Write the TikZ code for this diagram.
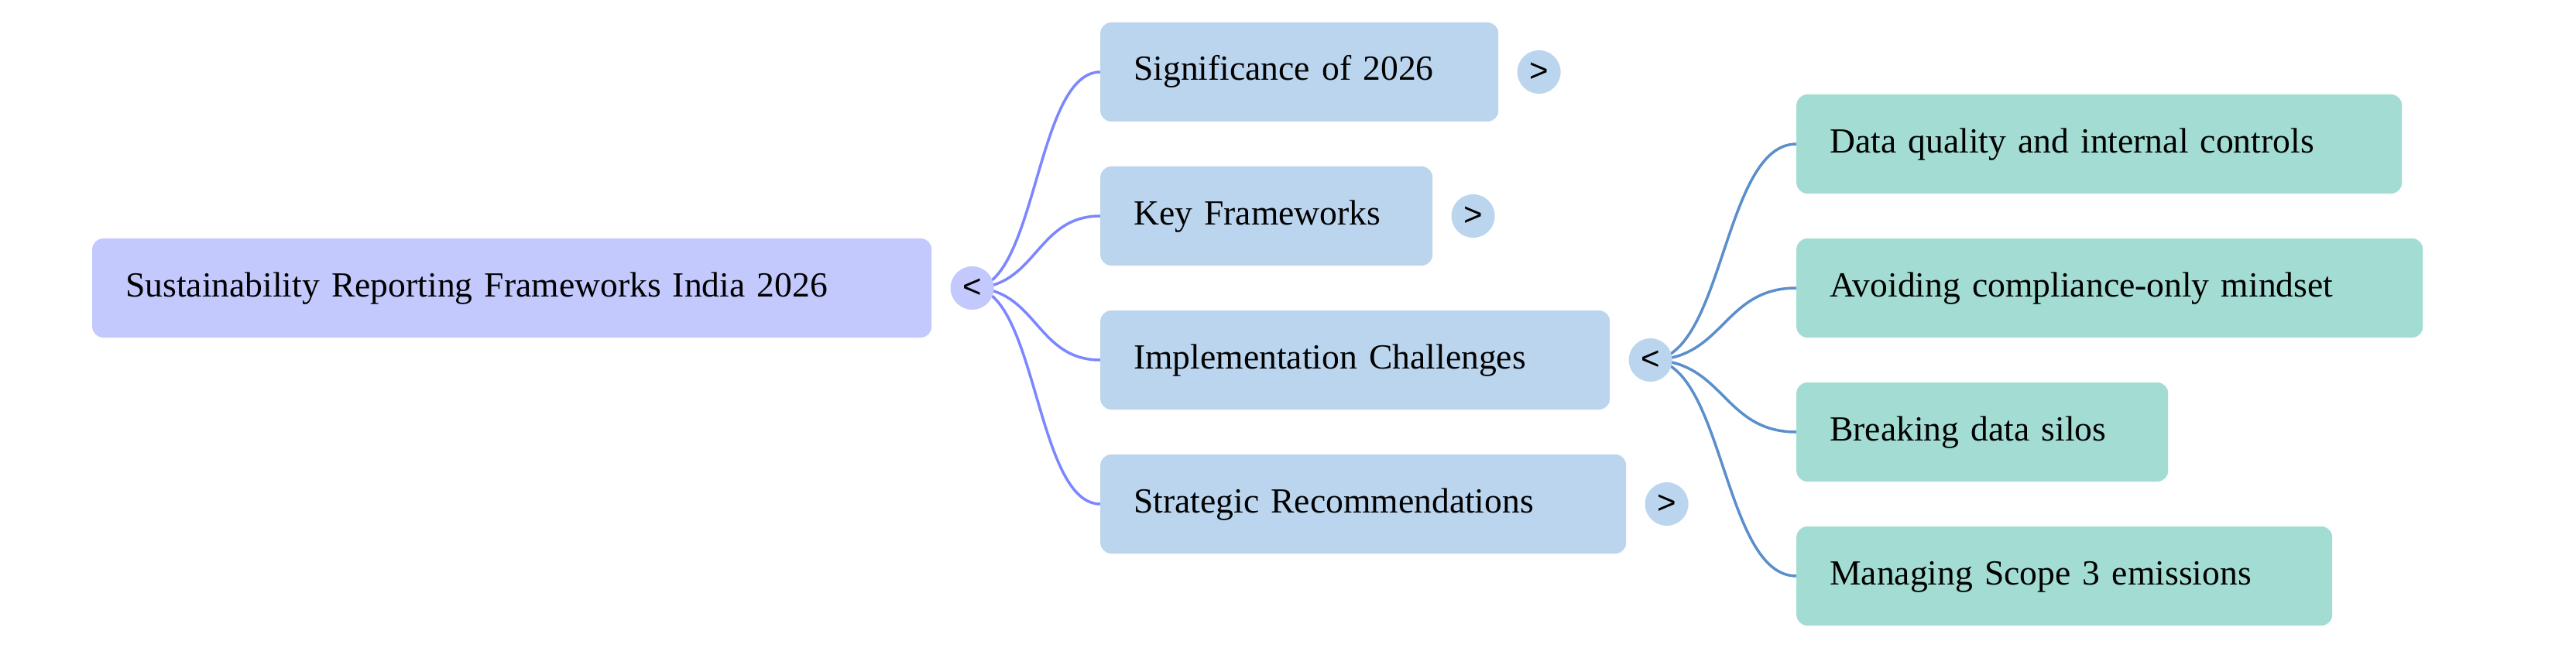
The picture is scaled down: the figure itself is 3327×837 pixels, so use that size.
\documentclass[tikz,border=0pt]{standalone}
\usepackage{fontspec}
\setmainfont{Liberation Serif}
\newfontfamily\chevfont{Liberation Sans}
\usetikzlibrary{positioning,backgrounds}

\definecolor{rootfill}{HTML}{C3C9FD}
\definecolor{topicfill}{HTML}{BBD5EE}
\definecolor{leaffill}{HTML}{A2DCD2}
\definecolor{rootline}{HTML}{7C87FF}
\definecolor{topicline}{HTML}{5B8FCC}

\begin{document}
\begin{tikzpicture}[x=1pt,y=-1pt,node distance=24pt]
  \tikzstyle{box}=[rectangle,rounded corners=14pt,anchor=west,minimum height=128pt,
                   inner xsep=43pt,inner ysep=0pt,align=left,
                   font=\fontsize{45.6}{54}\selectfont,text height=32pt,text depth=10pt]
  \tikzstyle{fold}=[circle,minimum size=56pt,inner sep=0pt,
                    font=\chevfont\fontsize{42}{42}\selectfont]
  \tikzstyle{link}=[line width=3.5pt]

  \useasboundingbox (0,0) rectangle (3327,837);

  % root and its fold button
  \node[box,fill=rootfill,text width=998pt] (root) at (119,372)
        {Sustainability Reporting Frameworks India 2026};
  \node[fold,fill=rootfill] (rc) [right=of root] {<};

  % first level
  \node[box,fill=topicfill,text width=428pt] (sig)   at (1421,93)  {Significance of 2026};
  \node[box,fill=topicfill,text width=343pt] (key)   at (1421,279) {Key Frameworks};
  \node[box,fill=topicfill,text width=572pt] (impl)  at (1421,465) {Implementation Challenges};
  \node[box,fill=topicfill,text width=593pt] (strat) at (1421,651) {Strategic Recommendations};

  \node[fold,fill=topicfill] (sigc)   [right=of sig]   {>};
  \node[fold,fill=topicfill] (keyc)   [right=of key]   {>};
  \node[fold,fill=topicfill] (implc)  [right=of impl]  {<};
  \node[fold,fill=topicfill] (stratc) [right=of strat] {>};

  % second level
  \node[box,fill=leaffill,text width=696pt] (dq)    at (2320,186) {Data quality and internal controls};
  \node[box,fill=leaffill,text width=723pt] (avoid) at (2320,372) {Avoiding compliance-only mindset};
  \node[box,fill=leaffill,text width=394pt] (silo)  at (2320,558) {Breaking data silos};
  \node[box,fill=leaffill,text width=606pt] (scope) at (2320,744) {Managing Scope 3 emissions};

  \begin{pgfonlayer}{background}
    \fill[white] (0,0) rectangle (3327,837);
    \foreach \t in {sig,key,impl,strat}
      \draw[link,rootline] (rc.center) .. controls +(83.5,0) and +(-83.5,0) .. (\t.west);
    \foreach \t in {dq,avoid,silo,scope}
      \draw[link,topicline] (implc.center) .. controls +(95,0) and +(-95,0) .. (\t.west);
  \end{pgfonlayer}

\end{tikzpicture}
\end{document}
